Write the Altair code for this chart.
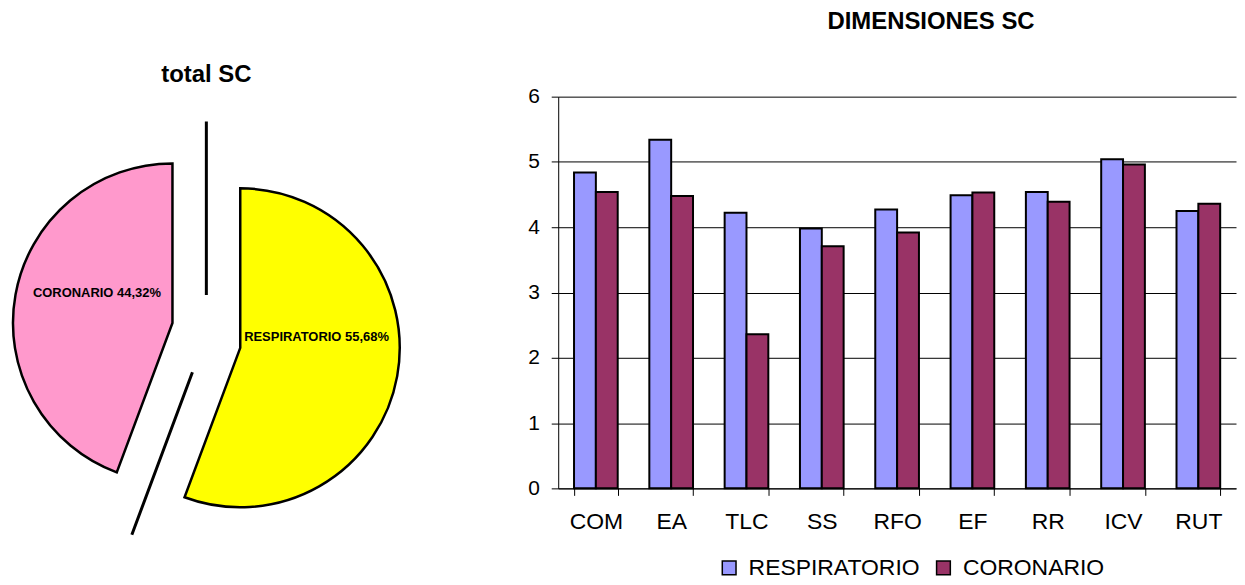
import altair as alt
import pandas as pd
import numpy as np

# ---- pie data ----
pie_groups = ["RESPIRATORIO", "CORONARIO"]
pie_share = [55.68, 44.32]
pie_text = ["RESPIRATORIO 55,68%", "CORONARIO 44,32%"]
pie_colors = ["#FFFF00", "#FF99CC"]

# ---- bar data ----
dims = ["COM", "EA", "TLC", "SS", "RFO", "EF", "RR", "ICV", "RUT"]
resp_vals = [4.84, 5.34, 4.22, 3.98, 4.27, 4.49, 4.54, 5.04, 4.25]
coro_vals = [4.54, 4.48, 2.36, 3.71, 3.92, 4.53, 4.39, 4.96, 4.36]
series = ["RESPIRATORIO", "CORONARIO"]
bar_colors = ["#9999FF", "#993366"]
y_ticks = [0, 1, 2, 3, 4, 5, 6]

FONT = "Liberation Sans"

frac = np.array(pie_share) / sum(pie_share)
ends = np.cumsum(frac) * 2 * np.pi
starts = ends - frac * 2 * np.pi
pie_df = pd.DataFrame({
    "group": pie_groups, "label": pie_text,
    "start": starts, "end": ends, "mid": (starts + ends) / 2,
})
edge_df = pd.DataFrame({"b": starts})

R = 160
pie_color = alt.Color("group:N", scale=alt.Scale(domain=pie_groups, range=pie_colors), legend=None)
base = alt.Chart(pie_df)

resp_slice = base.transform_filter(alt.datum.group == "RESPIRATORIO").mark_arc(
    radius=R, stroke="black", strokeWidth=2.5, xOffset=34, yOffset=13
).encode(theta=alt.Theta("start:Q", scale=None), theta2="end:Q", color=pie_color)

coro_slice = base.transform_filter(alt.datum.group == "CORONARIO").mark_arc(
    radius=R, stroke="black", strokeWidth=2.5, xOffset=-34, yOffset=-12
).encode(theta=alt.Theta("start:Q", scale=None), theta2="end:Q", color=pie_color)

edges = alt.Chart(edge_df).mark_arc(
    radius=214, radius2=40, stroke="black", strokeWidth=3, fillOpacity=0
).encode(theta=alt.Theta("b:Q", scale=None), theta2="b:Q")

coro_label = base.transform_filter(alt.datum.group == "CORONARIO").mark_text(
    radius=75, dx=-36, dy=-29, font=FONT, fontWeight="bold", fontSize=13, color="black"
).encode(theta=alt.Theta("mid:Q", scale=None), text="label:N")

resp_label = base.transform_filter(alt.datum.group == "RESPIRATORIO").mark_text(
    radius=5, dx=33, dy=1, align="left", font=FONT, fontWeight="bold", fontSize=13, color="black"
).encode(theta=alt.Theta("mid:Q", scale=None), text="label:N")

pie = alt.layer(coro_slice, resp_slice, edges, coro_label, resp_label).properties(
    width=386, height=478,
    title=alt.TitleParams("total SC", font=FONT, fontSize=24, fontWeight="bold", offset=10, anchor="middle"),
)

# ---- bars ----
bar_df = pd.DataFrame({
    "dim": dims * 2,
    "series": [series[0]] * len(dims) + [series[1]] * len(dims),
    "value": resp_vals + coro_vals,
})

bars = alt.Chart(bar_df).mark_bar(stroke="black", strokeWidth=2).encode(
    x=alt.X("dim:N", sort=dims, title=None,
            scale=alt.Scale(paddingInner=0.42, paddingOuter=0.21),
            axis=alt.Axis(labelAngle=0, tickBand="extent", labelFont=FONT, labelFontSize=23,
                          labelColor="black", tickColor="black", tickSize=7, domainColor="black",
                          labelPadding=15, grid=False)),
    xOffset=alt.XOffset("series:N", sort=series),
    y=alt.Y("value:Q", title=None, scale=alt.Scale(domain=[0, 6]),
            axis=alt.Axis(values=y_ticks, labelFont=FONT, labelFontSize=21, labelColor="black",
                          tickColor="black", tickSize=7, domainColor="black", labelPadding=12,
                          gridColor="black", gridOpacity=1, gridWidth=1)),
    color=alt.Color("series:N", sort=series,
                    scale=alt.Scale(domain=series, range=bar_colors),
                    legend=alt.Legend(title=None, orient="none", direction="horizontal",
                                      legendX=160, legendY=461, labelLimit=0,
                                      symbolType="square", symbolSize=190, symbolStrokeColor="black",
                                      symbolStrokeWidth=1.5, symbolOpacity=1,
                                      labelFont=FONT, labelFontSize=23, labelColor="black",
                                      columnPadding=12, labelOffset=8)),
).properties(
    width=680, height=393,
    title=alt.TitleParams("DIMENSIONES SC", font=FONT, fontSize=24, fontWeight="bold",
                          offset=52, anchor="middle", dx=34),
)

chart = alt.hconcat(pie, bars, spacing=122, padding=0).resolve_scale(
    color="independent"
).configure_view(stroke="transparent")

chart.save("out.html", embed_options={"renderer": "svg", "actions": False})
